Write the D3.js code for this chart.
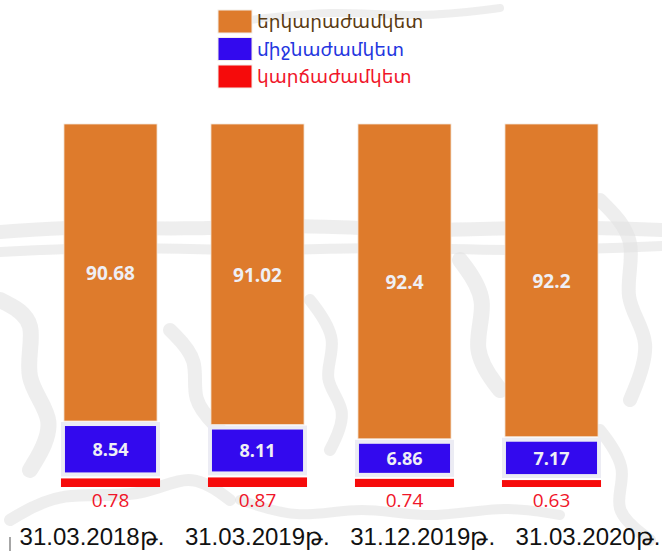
<!DOCTYPE html>
<html>
<head>
<meta charset="utf-8">
<script src="https://cdn.jsdelivr.net/npm/d3@7"></script>
<style>
  body { margin: 0; background: #fff; }
  svg { display: block; }
</style>
</head>
<body>
<script>
// data
var dates = ["31.03.2018թ.", "31.03.2019թ.", "31.12.2019թ.", "31.03.2020թ."];
var longTerm = [90.68, 91.02, 92.4, 92.2];
var midTerm = [8.54, 8.11, 6.86, 7.17];
var shortTerm = [0.78, 0.87, 0.74, 0.63];
var seriesNames = ["երկարաժամկետ", "միջնաժամկետ", "կարճաժամկետ"];

var width = 662, height = 551;
var orange = "#DE7B2C", blue = "#3309EE", red = "#F60B0B", boxGray = "#ECECF4";

var svg = d3.select("body").append("svg")
    .attr("width", width)
    .attr("height", height);

// faint sketchy background
var bgLine = d3.line().curve(d3.curveBasis);
var strokes = [
  {w: 14, p: [[0,232],[80,226],[180,230],[300,224],[420,232],[540,226],[662,230]]},
  {w: 10, p: [[0,252],[120,246],[260,252],[380,246],[520,252],[662,246]]},
  {w: 16, p: [[0,300],[40,320],[20,380],[60,420],[30,470]]},
  {w: 12, p: [[10,520],[60,490],[140,500],[190,470],[230,500]]},
  {w: 14, p: [[170,330],[200,360],[190,400],[220,430]]},
  {w: 12, p: [[310,300],[340,340],[320,380],[350,410],[330,450]]},
  {w: 16, p: [[460,260],[490,300],[470,350],[500,390]]},
  {w: 14, p: [[600,200],[640,240],[620,300],[655,340],[630,400]]},
  {w: 10, p: [[240,500],[300,520],[360,505],[430,520],[500,505],[560,515]]},
  {w: 12, p: [[600,430],[630,470],[610,510],[650,540]]},
  {w: 8, p: [[250,20],[330,10],[420,18],[500,8]]}
];
svg.append("g")
  .selectAll("path")
  .data(strokes)
  .enter().append("path")
    .attr("d", function(d) { return bgLine(d.p); })
    .attr("fill", "none")
    .attr("stroke", "#e2e2e2")
    .attr("stroke-width", function(d) { return d.w; })
    .attr("stroke-linecap", "round")
    .attr("opacity", 0.6);

svg.append("line")
    .attr("x1", 10).attr("x2", 10).attr("y1", 537).attr("y2", 551)
    .attr("stroke", "#888").attr("stroke-width", 1.5);

// scales (broken y scale so the small segments stay visible)
var x = d3.scaleBand()
    .domain(dates)
    .range([37, 625])
    .paddingInner(0.367)
    .paddingOuter(0.1835);

var xLabel = d3.scalePoint()
    .domain(dates)
    .range([92, 588]);

var y = d3.scaleLinear()
    .domain([0, 1, 7, 10, 100])
    .range([487, 476, 446, 415, 124]);

var rows = dates.map(function(d, i) {
  return {date: d, s: shortTerm[i], m: midTerm[i], l: longTerm[i]};
});

var bars = svg.selectAll(".bar")
    .data(rows)
    .enter().append("g")
    .attr("class", "bar");

// short term (red)
bars.append("rect")
    .attr("x", function(d) { return x(d.date) - 3; })
    .attr("width", x.bandwidth() + 6)
    .attr("y", function(d) { return y(d.s); })
    .attr("height", function(d) { return y(0) - y(d.s); })
    .attr("fill", red);

// mid term (blue with light frame)
bars.append("rect")
    .attr("x", function(d) { return x(d.date) - 3; })
    .attr("width", x.bandwidth() + 6)
    .attr("y", function(d) { return y(d.s + d.m); })
    .attr("height", function(d) { return y(d.s) - 2 - y(d.s + d.m); })
    .attr("fill", boxGray);

bars.append("rect")
    .attr("x", function(d) { return x(d.date) + 1; })
    .attr("width", x.bandwidth() - 2)
    .attr("y", function(d) { return y(d.s + d.m) + 4; })
    .attr("height", function(d) { return y(d.s) - 2 - y(d.s + d.m) - 8; })
    .attr("fill", blue);

// long term (orange)
bars.append("rect")
    .attr("x", function(d) { return x(d.date); })
    .attr("width", x.bandwidth())
    .attr("y", function(d) { return y(d.s + d.m + d.l); })
    .attr("height", function(d) { return y(d.s + d.m) - 1 - y(d.s + d.m + d.l); })
    .attr("fill", orange)
    .attr("stroke", "#f3e6da")
    .attr("stroke-width", 0.8);

// value labels
bars.append("text")
    .attr("x", function(d) { return x(d.date) + x.bandwidth() / 2; })
    .attr("y", function(d) { return (y(d.s + d.m + d.l) + y(d.s + d.m)) / 2 + 7; })
    .attr("text-anchor", "middle")
    .attr("font-family", "'Open Sans', sans-serif")
    .attr("font-weight", "bold")
    .attr("font-size", "19px")
    .attr("fill", "#efeff5")
    .text(function(d) { return d.l; });

bars.append("text")
    .attr("x", function(d) { return x(d.date) + x.bandwidth() / 2; })
    .attr("y", function(d) { return (y(d.s + d.m) + y(d.s) - 2) / 2 + 7; })
    .attr("text-anchor", "middle")
    .attr("font-family", "'Open Sans', sans-serif")
    .attr("font-weight", "bold")
    .attr("font-size", "18px")
    .attr("fill", "#efeff5")
    .text(function(d) { return d.m; });

bars.append("text")
    .attr("x", function(d) { return x(d.date) + x.bandwidth() / 2; })
    .attr("y", y(0) + 20)
    .attr("text-anchor", "middle")
    .attr("font-family", "'Open Sans', sans-serif")
    .attr("font-size", "19px")
    .attr("fill", "#F0162A")
    .text(function(d) { return d.s; });

// category labels
svg.selectAll(".xlabel")
    .data(dates)
    .enter().append("text")
    .attr("class", "xlabel")
    .attr("x", function(d) { return xLabel(d); })
    .attr("y", 545)
    .attr("text-anchor", "middle")
    .attr("font-family", "'Liberation Sans', Arial, sans-serif")
    .attr("font-size", "24px")
    .attr("fill", "#111")
    .text(function(d) { return d; });

// legend
var legendColors = [orange, blue, red];
var legendText = ["#5a3b12", "#2436E0", "#F0162A"];
var legend = svg.selectAll(".legend")
    .data(seriesNames)
    .enter().append("g")
    .attr("class", "legend")
    .attr("transform", function(d, i) { return "translate(218," + (10 + i * 27.5) + ")"; });

legend.append("rect")
    .attr("width", 34)
    .attr("height", 23)
    .attr("fill", function(d, i) { return legendColors[i]; })
    .attr("stroke", "#f2ede8")
    .attr("stroke-width", 1);

legend.append("text")
    .attr("x", 39)
    .attr("y", 18)
    .attr("font-family", "'DejaVu Sans', sans-serif")
    .attr("font-size", "18.5px")
    .attr("fill", function(d, i) { return legendText[i]; })
    .text(function(d) { return d; });
</script>
</body>
</html>
